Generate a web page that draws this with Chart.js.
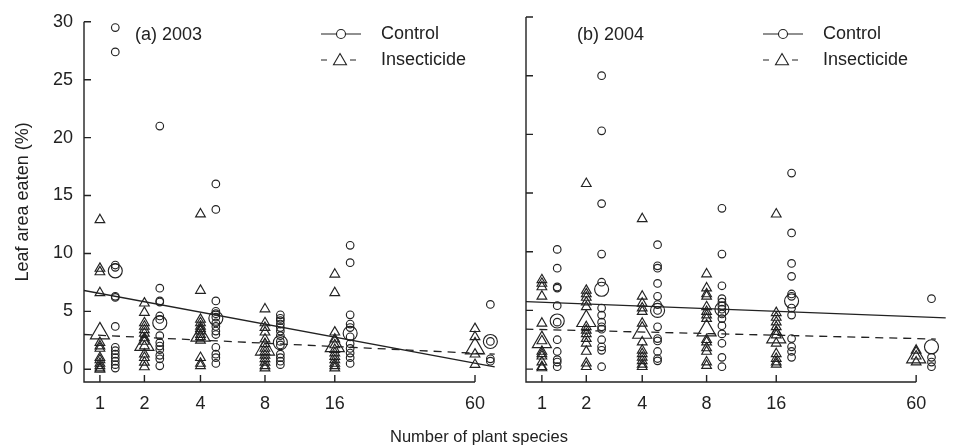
<!DOCTYPE html>
<html>
<head>
<meta charset="utf-8">
<title>Leaf area eaten</title>
<script src="https://cdn.jsdelivr.net/npm/chart.js@4.4.1/dist/chart.umd.min.js"></script>
<style>
  body { margin: 0; background: #fff; }
  #wrap { position: relative; width: 958px; height: 448px; font-family: "Liberation Sans", Arial, sans-serif; }
  canvas { position: absolute; top: 0; }
  #xtitle { position: absolute; left: 0; width: 958px; top: 427px; text-align: center; font-size: 16.5px; color: #222; }
</style>
</head>
<body>
<div id="wrap">
  <canvas id="c2003" style="left:0"></canvas>
  <canvas id="c2004" style="left:512px"></canvas>
  <div id="xtitle">Number of plant species</div>
</div>
<script>
// number of plant species (x categories) and axis labels
const species = [1, 2, 4, 8, 16, 60];
const tickLabels = ['1', '2', '4', '8', '16', '60'];
const yTicks = [0, 5, 10, 15, 20, 25, 30];
const legendLabels = ['Control', 'Insecticide'];

// 2003: individual plots, one list per species level
const control2003 = [
  [29.5, 27.4, 9.0, 8.8, 6.3, 6.2, 3.7, 1.9, 1.6, 1.3, 1.0, 0.7, 0.4, 0.1],
  [21.0, 7.0, 5.9, 5.8, 4.6, 4.3, 2.9, 2.3, 2.0, 1.7, 1.2, 0.9, 0.3],
  [16.0, 13.8, 5.9, 5.0, 4.8, 4.5, 4.0, 3.7, 3.3, 3.0, 1.9, 1.3, 1.0, 0.5],
  [4.7, 4.4, 4.2, 3.9, 3.6, 3.3, 2.9, 2.4, 2.1, 1.3, 1.0, 0.7, 0.4],
  [10.7, 9.2, 4.7, 3.9, 3.6, 2.8, 2.2, 1.8, 1.4, 1.0, 0.5],
  [5.6, 2.4, 0.9, 0.7]
];
const insect2003 = [
  [12.9, 8.7, 8.4, 6.6, 2.3, 2.0, 1.8, 1.0, 0.8, 0.5, 0.3, 0.1, 0.0],
  [5.7, 4.9, 4.0, 3.7, 3.4, 3.1, 2.7, 2.4, 2.0, 1.3, 1.0, 0.6, 0.2],
  [13.4, 6.8, 4.3, 4.0, 3.7, 3.5, 3.3, 3.0, 2.8, 2.5, 1.0, 0.5, 0.3],
  [5.2, 4.0, 3.6, 3.2, 2.6, 2.2, 1.8, 1.5, 1.2, 0.9, 0.6, 0.3, 0.1],
  [8.2, 6.6, 3.2, 2.6, 2.1, 1.7, 1.4, 1.1, 0.8, 0.5, 0.3, 0.1],
  [3.5, 2.8, 1.3, 0.4]
];
const controlMean2003 = [8.5, 4.0, 4.4, 2.3, 3.1, 2.4];
const insectMean2003 = [3.1, 2.1, 2.9, 1.7, 2.0, 1.8];
// fitted lines, [species, value] at both ends
const controlFit2003 = [[0.73, 6.8], [72, 0.2]];
const insectFit2003 = [[0.73, 3.0], [72, 1.3]];

// 2004
const control2004 = [
  [10.2, 8.6, 7.0, 6.9, 5.4, 4.0, 2.5, 1.5, 0.8, 0.6, 0.2],
  [25.0, 20.3, 14.1, 9.8, 7.4, 5.2, 4.6, 4.0, 3.6, 3.4, 2.5, 1.9, 1.6, 0.2],
  [10.6, 8.8, 8.6, 7.3, 6.2, 5.5, 5.0, 3.6, 2.6, 2.4, 1.5, 0.9, 0.7],
  [13.7, 9.8, 7.1, 6.0, 5.7, 5.4, 5.1, 4.7, 4.3, 3.7, 3.0, 2.2, 1.0, 0.2],
  [16.7, 11.6, 9.0, 7.9, 6.4, 6.2, 5.2, 4.6, 2.6, 1.9, 1.5, 1.0],
  [6.0, 1.0, 0.6, 0.2]
];
const insect2004 = [
  [7.6, 7.3, 7.0, 6.2, 3.9, 2.4, 1.5, 1.3, 1.1, 0.6, 0.2, 0.1],
  [15.8, 6.7, 6.4, 6.1, 5.7, 5.3, 3.6, 3.3, 3.0, 2.6, 2.2, 1.5, 0.5, 0.2],
  [12.8, 6.2, 5.6, 5.2, 4.9, 3.9, 2.3, 1.6, 1.3, 1.0, 0.7, 0.4, 0.2],
  [8.1, 6.9, 6.4, 6.2, 5.3, 4.9, 4.6, 4.3, 2.5, 2.3, 1.8, 1.5, 0.6, 0.3],
  [13.2, 4.8, 4.4, 4.0, 3.6, 3.2, 2.9, 2.2, 1.3, 0.9, 0.6, 0.4],
  [1.6, 1.1, 0.6]
];
const controlMean2004 = [4.1, 6.8, 5.0, 5.1, 5.8, 1.9];
const insectMean2004 = [2.3, 4.1, 3.1, 3.3, 2.7, 1.0];
const controlFit2004 = [[0.72, 5.75], [79, 4.36]];
const insectFit2004 = [[0.72, 3.4], [72, 2.56]];

const ink = '#222';
const font = '"Liberation Sans", Arial, sans-serif';
const circleShift = 0.14; // control symbols sit just right of each tick

// axis runs on log(n + 1)
function pos(n) { return Math.log(n + 1); }

function points(groups, shift) {
  return groups.flatMap((vals, i) => vals.map(v => ({ x: pos(species[i]) + shift, y: v })));
}
function means(vals, shift) {
  return vals.map((v, i) => ({ x: pos(species[i]) + shift, y: v }));
}
function fit(ends) {
  return ends.map(([n, v]) => ({ x: pos(n), y: v }));
}

function triangle(ctx, x, y, r) {
  ctx.beginPath();
  for (let k = 0; k < 3; k++) {
    const a = k * 2 * Math.PI / 3;
    const px = x + Math.sin(a) * r, py = y - Math.cos(a) * r;
    if (k === 0) ctx.moveTo(px, py); else ctx.lineTo(px, py);
  }
  ctx.closePath();
  ctx.stroke();
}

// R-style axes with inward ticks, plus legend and panel label
const decorations = {
  id: 'decorations',
  afterDraw(chart, args, opts) {
    const { ctx, chartArea } = chart;
    const xs = chart.scales.x, ys = chart.scales.y;
    const L = chartArea.left, B = chartArea.bottom;
    ctx.save();
    ctx.strokeStyle = ink;
    ctx.lineWidth = 1.4;
    ctx.beginPath();
    ctx.moveTo(L, ys.getPixelForValue(yTicks[yTicks.length - 1]));
    ctx.lineTo(L, B);
    ctx.lineTo(xs.getPixelForValue(pos(species[species.length - 1])), B);
    yTicks.forEach(v => {
      const py = ys.getPixelForValue(v);
      ctx.moveTo(L, py); ctx.lineTo(L + 7, py);
    });
    species.forEach(n => {
      const px = xs.getPixelForValue(pos(n));
      ctx.moveTo(px, B); ctx.lineTo(px, B - 7);
    });
    ctx.stroke();

    // legend
    ctx.lineWidth = 1.1;
    ctx.beginPath();
    ctx.moveTo(L + 237, 34); ctx.lineTo(L + 277, 34);
    ctx.moveTo(L + 237, 60); ctx.lineTo(L + 243, 60);
    ctx.moveTo(L + 266, 60); ctx.lineTo(L + 272, 60);
    ctx.stroke();
    ctx.fillStyle = '#fff';
    ctx.beginPath();
    ctx.arc(L + 257, 34, 4.5, 0, 2 * Math.PI);
    ctx.fill(); ctx.stroke();
    triangle(ctx, L + 256, 61, 7.5);

    ctx.fillStyle = ink;
    ctx.font = '18px ' + font;
    ctx.textBaseline = 'middle';
    ctx.textAlign = 'left';
    ctx.fillText(legendLabels[0], L + 297, 34);
    ctx.fillText(legendLabels[1], L + 297, 60);
    ctx.fillText(opts.label, L + 51, 35);
    ctx.restore();
  }
};

function makePanel(id, w, label, control, insect, cMean, iMean, cFit, iFit, showY, xMax) {
  const canvas = document.getElementById(id);
  canvas.width = w; canvas.height = 448;
  const sym = {
    type: 'scatter',
    borderColor: ink,
    backgroundColor: 'rgba(0,0,0,0)',
    pointBorderWidth: 1.15,
    clip: false
  };
  return new Chart(canvas, {
    data: {
      datasets: [
        { ...sym, data: points(insect, 0), pointStyle: 'triangle', pointRadius: 5.6 },
        { ...sym, data: points(control, circleShift), pointStyle: 'circle', pointRadius: 3.8 },
        { ...sym, data: means(iMean, 0), pointStyle: 'triangle', pointRadius: 11 },
        { ...sym, data: means(cMean, circleShift), pointStyle: 'circle', pointRadius: 7 },
        { type: 'line', data: fit(cFit), borderColor: ink, borderWidth: 1.3, pointRadius: 0 },
        { type: 'line', data: fit(iFit), borderColor: ink, borderWidth: 1.3, borderDash: [8, 6], pointRadius: 0 }
      ]
    },
    options: {
      responsive: false,
      animation: false,
      layout: { padding: { top: 17, right: showY ? 2 : 0, left: 0, bottom: 0 } },
      plugins: {
        legend: { display: false },
        tooltip: { enabled: false },
        decorations: { label: label }
      },
      scales: {
        x: {
          type: 'linear',
          min: Math.log(1.73),
          max: Math.log(xMax),
          afterBuildTicks: s => { s.ticks = species.map(n => ({ value: pos(n) })); },
          afterFit: s => { s.height = 66; },
          grid: { display: false, drawTicks: false },
          border: { display: false },
          ticks: {
            autoSkip: false, maxRotation: 0, padding: 11, color: ink,
            font: { family: font, size: 18 },
            callback: (v, i) => tickLabels[i]
          }
        },
        y: {
          min: -1.1,
          max: 30,
          afterBuildTicks: s => { s.ticks = yTicks.map(v => ({ value: v })); },
          afterFit: s => { s.width = showY ? 84 : 14; },
          grid: { display: false, drawTicks: false },
          border: { display: false },
          ticks: { display: showY, padding: 11, color: ink, font: { family: font, size: 18 } },
          title: {
            display: showY, text: 'Leaf area eaten (%)', color: ink,
            padding: { top: 12, bottom: 0 },
            font: { family: font, size: 18 }
          }
        }
      }
    },
    plugins: [decorations]
  });
}

makePanel('c2003', 512, '(a) 2003', control2003, insect2003, controlMean2003, insectMean2003,
  controlFit2003, insectFit2003, true, 76.5);
makePanel('c2004', 446, '(b) 2004', control2004, insect2004, controlMean2004, insectMean2004,
  controlFit2004, insectFit2004, false, 80);
</script>
</body>
</html>
